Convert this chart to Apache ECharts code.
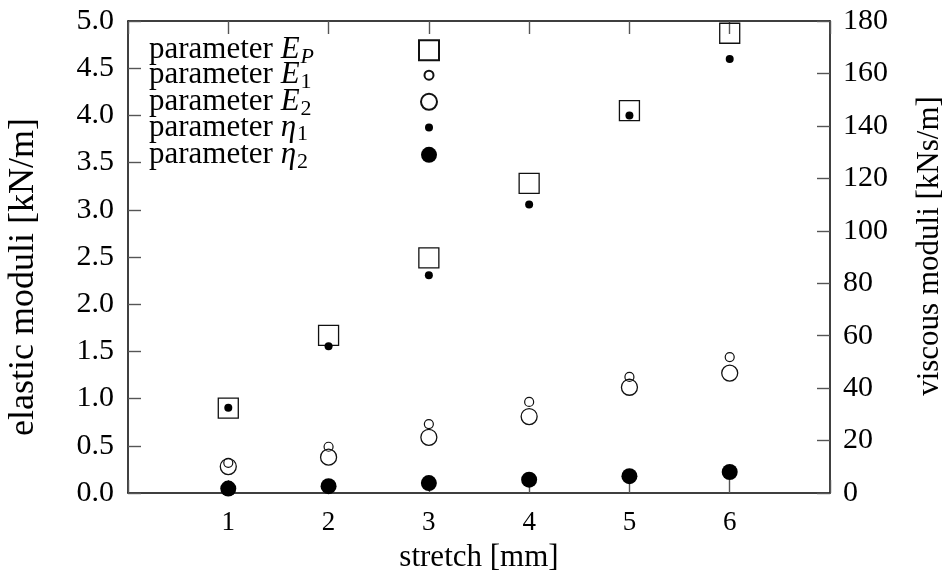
<!DOCTYPE html>
<html>
<head>
<meta charset="utf-8">
<script src="https://cdn.jsdelivr.net/npm/echarts@6/dist/echarts.min.js"></script>
<style>
  html, body { margin: 0; padding: 0; background: #fff; }
  #chart { width: 947px; height: 576px; }
</style>
</head>
<body>
<div id="chart"></div>
<script>
// stretch positions and fitted parameters
var stretch = [1, 2, 3, 4, 5, 6];
var epValues = [0.90, 1.67, 2.49, 3.28, 4.05, 4.87];      // kN/m
var e1Values = [0.32, 0.49, 0.73, 0.965, 1.23, 1.44];     // kN/m
var e2Values = [0.28, 0.38, 0.59, 0.81, 1.12, 1.27];      // kN/m
var eta1Values = [32.5, 56, 83, 110, 144, 165.5];         // kNs/m
var eta2Values = [1.7, 2.6, 3.8, 5.1, 6.4, 8.0];          // kNs/m
var xTicks = [1, 2, 3, 4, 5, 6];

var FONT = 'Liberation Serif';
var INK = '#000';

function pairs(vals) {
  return stretch.map(function (x, i) { return [x, vals[i]]; });
}

var markerSize = { EP: 20, E1: 9, E2: 16, eta1: 8, eta2: 16 };
var legendText = {
  EP: '{n|parameter }{i|E}{si|P}',
  E1: '{n|parameter }{i|E}{s|1}',
  E2: '{n|parameter }{i|E}{s|2}',
  eta1: '{n|parameter }{i|η}{s|1}',
  eta2: '{n|parameter }{i|η}{s|2}'
};
// subscripts: top-aligned token pushed down by its top padding
var rich = {
  n: { fontFamily: FONT, fontSize: 31, color: INK, lineHeight: 26, align: 'left' },
  i: { fontFamily: FONT, fontSize: 31, fontStyle: 'italic', color: INK, lineHeight: 26, align: 'left' },
  s: { fontFamily: FONT, fontSize: 22, color: INK, lineHeight: 26, verticalAlign: 'top', padding: [9, 0, 0, 1], align: 'left' },
  si: { fontFamily: FONT, fontSize: 22, fontStyle: 'italic', color: INK, lineHeight: 26, verticalAlign: 'top', padding: [9, 0, 0, 1], align: 'left' }
};

function makeLegend(name, rowY) {
  var s = markerSize[name];
  var textW = 275 - s / 2;
  return {
    data: [name],
    selectedMode: false,
    align: 'right',
    padding: 0,
    left: 149,
    top: rowY - 13,
    itemWidth: s,
    itemHeight: s,
    formatter: function () { return legendText[name]; },
    textStyle: { width: textW, rich: rich }
  };
}

var chart = echarts.init(document.getElementById('chart'));

var axisLine = { show: true, onZero: false, lineStyle: { color: INK, width: 1.5 } };
var axisTick = { show: true, inside: true, length: 13, lineStyle: { color: '#555', width: 1.4 } };

option = {
  animation: false,
  backgroundColor: '#fff',
  grid: { left: 128, right: 117, top: 21, bottom: 83, outerBoundsMode: 'none' },
  legend: [
    makeLegend('EP', 47.7),
    makeLegend('E1', 72.7),
    makeLegend('E2', 99.3),
    makeLegend('eta1', 125),
    makeLegend('eta2', 152.3)
  ],
  xAxis: [
    {
      type: 'value', min: 0, max: 7, interval: 1,
      name: 'stretch [mm]', nameLocation: 'middle', nameGap: 49,
      nameTextStyle: { fontFamily: FONT, fontSize: 31, color: INK },
      axisLine: axisLine, axisTick: axisTick, splitLine: { show: false },
      axisLabel: {
        fontFamily: FONT, fontSize: 27, color: INK, margin: 16,
        formatter: function (v) { return xTicks.indexOf(v) >= 0 ? String(v) : ''; }
      }
    },
    {
      type: 'value', position: 'top', min: 0, max: 7, interval: 1,
      axisLine: axisLine, axisTick: axisTick, splitLine: { show: false },
      axisLabel: { show: false }
    }
  ],
  yAxis: [
    {
      type: 'value', min: 0, max: 5, interval: 0.5,
      name: 'elastic moduli [kN/m]', nameLocation: 'middle', nameGap: 86, nameRotate: 90,
      nameTextStyle: { fontFamily: FONT, fontSize: 36, color: INK, padding: [0, 40, 0, 0] },
      axisLine: axisLine, axisTick: axisTick, splitLine: { show: false },
      axisLabel: {
        fontFamily: FONT, fontSize: 30, color: INK, margin: 14,
        formatter: function (v) { return v.toFixed(1); }
      }
    },
    {
      type: 'value', position: 'right', min: 0, max: 180, interval: 20,
      name: 'viscous moduli [kNs/m]', nameLocation: 'middle', nameGap: 84, nameRotate: 90,
      nameTextStyle: { fontFamily: FONT, fontSize: 31, color: INK, padding: [0, 0, 0, 22] },
      axisLine: axisLine, axisTick: axisTick, splitLine: { show: false },
      axisLabel: { fontFamily: FONT, fontSize: 30, color: INK, margin: 13 }
    }
  ],
  series: [
    {
      name: 'EP', type: 'scatter', yAxisIndex: 0, symbol: 'rect', symbolSize: markerSize.EP,
      data: pairs(epValues),
      itemStyle: { color: 'rgba(0,0,0,0)', borderColor: '#111', borderWidth: 1.3, opacity: 1 }
    },
    {
      name: 'E1', type: 'scatter', yAxisIndex: 0, symbol: 'circle', symbolSize: markerSize.E1,
      data: pairs(e1Values),
      itemStyle: { color: 'rgba(0,0,0,0)', borderColor: '#111', borderWidth: 1.2, opacity: 1 }
    },
    {
      name: 'E2', type: 'scatter', yAxisIndex: 0, symbol: 'circle', symbolSize: markerSize.E2,
      data: pairs(e2Values),
      itemStyle: { color: 'rgba(0,0,0,0)', borderColor: '#111', borderWidth: 1.3, opacity: 1 }
    },
    {
      name: 'eta1', type: 'scatter', yAxisIndex: 1, symbol: 'circle', symbolSize: markerSize.eta1,
      data: pairs(eta1Values),
      itemStyle: { color: '#000', opacity: 1 }
    },
    {
      name: 'eta2', type: 'scatter', yAxisIndex: 1, symbol: 'circle', symbolSize: markerSize.eta2,
      data: pairs(eta2Values),
      itemStyle: { color: '#000', opacity: 1 }
    }
  ]
};

chart.setOption(option);
</script>
</body>
</html>
